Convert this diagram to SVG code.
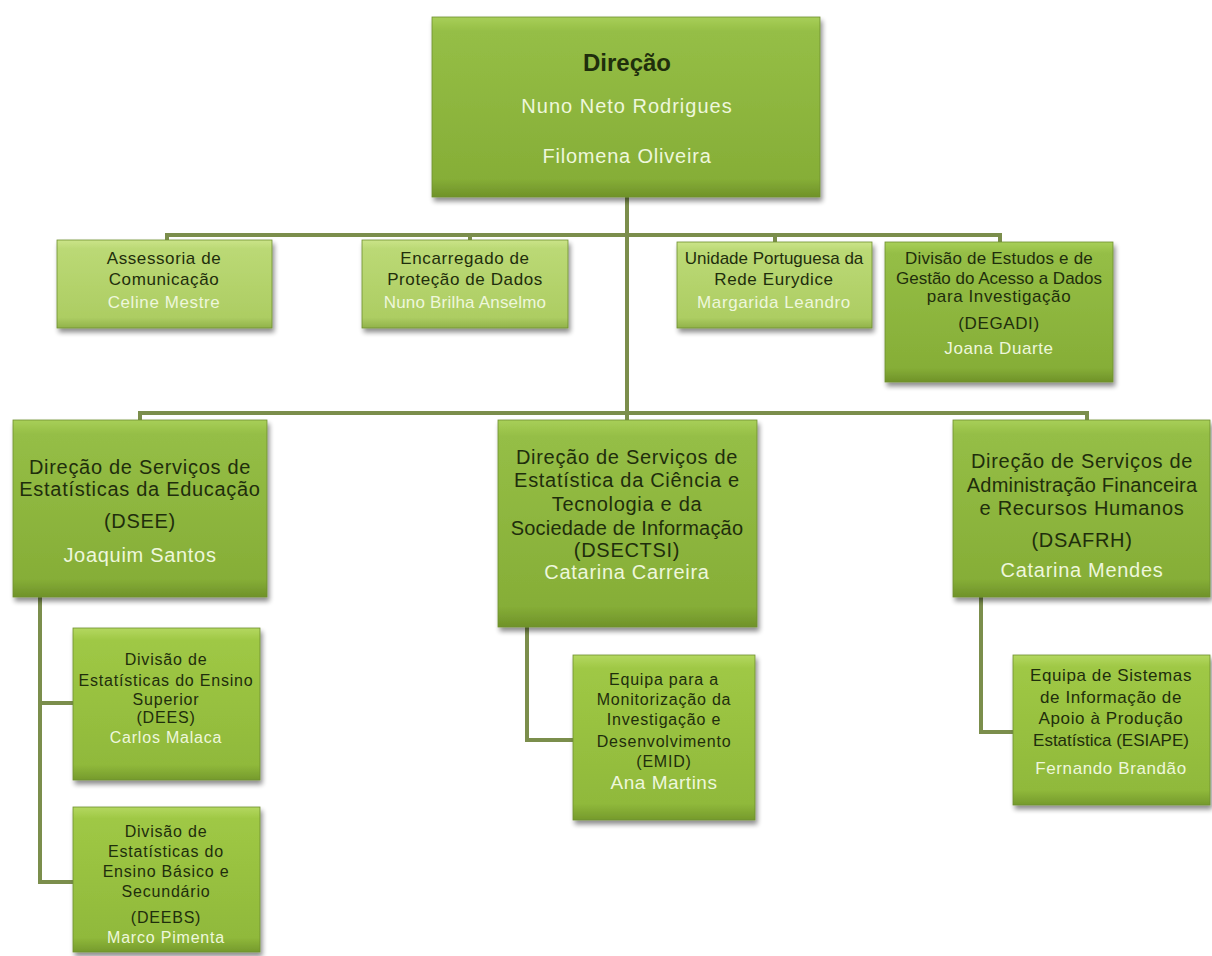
<svg xmlns="http://www.w3.org/2000/svg" width="1212" height="956" viewBox="0 0 1212 956">
<defs>
<linearGradient id="gMain" x1="0" y1="0" x2="0" y2="1">
<stop offset="0" stop-color="#a8cf58"/><stop offset="0.08" stop-color="#95be46"/><stop offset="0.9" stop-color="#86ae37"/><stop offset="1" stop-color="#6f9229"/>
</linearGradient>
<linearGradient id="gLight" x1="0" y1="0" x2="0" y2="1">
<stop offset="0" stop-color="#cbe489"/><stop offset="0.1" stop-color="#bbd975"/><stop offset="0.88" stop-color="#adcd63"/><stop offset="1" stop-color="#91b24a"/>
</linearGradient>
<linearGradient id="gSub" x1="0" y1="0" x2="0" y2="1">
<stop offset="0" stop-color="#b4d860"/><stop offset="0.08" stop-color="#9fc845"/><stop offset="0.9" stop-color="#90b93b"/><stop offset="1" stop-color="#759a2c"/>
</linearGradient>
<filter id="sh" x="-10%" y="-10%" width="125%" height="130%">
<feGaussianBlur in="SourceAlpha" stdDeviation="2.5"/>
<feOffset dx="2" dy="4" result="b"/>
<feComponentTransfer><feFuncA type="linear" slope="0.45"/></feComponentTransfer>
<feMerge><feMergeNode/><feMergeNode in="SourceGraphic"/></feMerge>
</filter>
</defs>
<style>
.box{filter:url(#sh);stroke:#6f8f30;stroke-width:0.8}
.main{fill:url(#gMain)}
.light{fill:url(#gLight)}
.sub{fill:url(#gSub)}
text{font-family:"Liberation Sans",Arial,sans-serif;text-anchor:middle}
.t{fill:#1f2e0c}
.n{fill:#eef7dc}
.l2{font-size:17px;letter-spacing:0.6px}
.l3{font-size:20px;letter-spacing:0.7px}
.l4{font-size:16px;letter-spacing:0.8px}
.l5{font-size:17px;letter-spacing:0.6px}
.tight{letter-spacing:0px}
.semi{letter-spacing:0.2px}
.conn{fill:none;stroke:#7b8e4c;stroke-width:4}
</style>
<g id="connectors">
<path class="conn" d="M627,197 V413"/>
<path class="conn" d="M167,242 V235 H1000 V242 M470,235 V242 M775,235 V242"/>
<path class="conn" d="M140,420 V413 H1087 V420 M627,413 V420"/>
<path class="conn" d="M40,597 V882 H73 M40,703 H73"/>
<path class="conn" d="M527,627 V740 H573"/>
<path class="conn" d="M981,597 V732 H1013"/>
</g>
<g id="direcao">
<rect class="box main" x="432" y="17" width="388" height="180"/>
<text class="t" x="627" y="71" font-size="24" font-weight="bold">Direção</text>
<text class="n" x="627" y="113" font-size="20" letter-spacing="1">Nuno Neto Rodrigues</text>
<text class="n" x="627" y="163" font-size="20" letter-spacing="0.8">Filomena Oliveira</text>
</g>
<g id="assessoria">
<rect class="box light" x="57" y="240" width="215" height="88"/>
<text class="t l2" x="164" y="264">Assessoria de</text>
<text class="t l2" x="164" y="285">Comunicação</text>
<text class="n l2" x="164" y="308">Celine Mestre</text>
</g>
<g id="encarregado">
<rect class="box light" x="362" y="240" width="206" height="88"/>
<text class="t l2" x="465" y="264">Encarregado de</text>
<text class="t l2" x="465" y="285">Proteção de Dados</text>
<text class="n l2 semi" x="465" y="308">Nuno Brilha Anselmo</text>
</g>
<g id="unidade">
<rect class="box light" x="677" y="242" width="195" height="86"/>
<text class="t l2 tight" x="774" y="264">Unidade Portuguesa da</text>
<text class="t l2" x="774" y="285">Rede Eurydice</text>
<text class="n l2" x="774" y="308">Margarida Leandro</text>
</g>
<g id="degadi">
<rect class="box main" x="885" y="242" width="228" height="140"/>
<text class="t l2 semi" x="999" y="264">Divisão de Estudos e de</text>
<text class="t l2 tight" x="999" y="284">Gestão do Acesso a Dados</text>
<text class="t l2" x="999" y="302">para Investigação</text>
<text class="t l2" x="999" y="329">(DEGADI)</text>
<text class="n l2" x="999" y="354">Joana Duarte</text>
</g>
<g id="dsee">
<rect class="box main" x="13" y="420" width="254" height="177"/>
<text class="t l3" x="140" y="474">Direção de Serviços de</text>
<text class="t l3" x="140" y="496">Estatísticas da Educação</text>
<text class="t l3" x="140" y="528">(DSEE)</text>
<text class="n l3" x="140" y="562">Joaquim Santos</text>
</g>
<g id="dsectsi">
<rect class="box main" x="498" y="420" width="259" height="207"/>
<text class="t l3" x="627" y="464">Direção de Serviços de</text>
<text class="t l3" x="627" y="487">Estatística da Ciência e</text>
<text class="t l3" x="627" y="511">Tecnologia e da</text>
<text class="t l3 semi" x="627" y="535">Sociedade de Informação</text>
<text class="t l3" x="627" y="557">(DSECTSI)</text>
<text class="n l3" x="627" y="579">Catarina Carreira</text>
</g>
<g id="dsafrh">
<rect class="box main" x="953" y="420" width="257" height="177"/>
<text class="t l3" x="1082" y="468">Direção de Serviços de</text>
<text class="t l3 semi" x="1082" y="492">Administração Financeira</text>
<text class="t l3" x="1082" y="515">e Recursos Humanos</text>
<text class="t l3" x="1082" y="547">(DSAFRH)</text>
<text class="n l3" x="1082" y="577">Catarina Mendes</text>
</g>
<g id="dees">
<rect class="box sub" x="73" y="628" width="187" height="152"/>
<text class="t l4" x="166" y="665">Divisão de</text>
<text class="t l4" x="166" y="686">Estatísticas do Ensino</text>
<text class="t l4" x="166" y="705">Superior</text>
<text class="t l4" x="166" y="723">(DEES)</text>
<text class="n l4" x="166" y="743">Carlos Malaca</text>
</g>
<g id="deebs">
<rect class="box sub" x="73" y="807" width="187" height="145"/>
<text class="t l4" x="166" y="837">Divisão de</text>
<text class="t l4" x="166" y="857">Estatísticas do</text>
<text class="t l4" x="166" y="877">Ensino Básico e</text>
<text class="t l4" x="166" y="897">Secundário</text>
<text class="t l4" x="166" y="923">(DEEBS)</text>
<text class="n l4" x="166" y="943">Marco Pimenta</text>
</g>
<g id="emid">
<rect class="box sub" x="573" y="655" width="182" height="165"/>
<text class="t l4" x="664" y="685">Equipa para a</text>
<text class="t l4" x="664" y="705">Monitorização da</text>
<text class="t l4" x="664" y="725">Investigação e</text>
<text class="t l4" x="664" y="747">Desenvolvimento</text>
<text class="t l4" x="664" y="767">(EMID)</text>
<text class="n" x="664" y="789" font-size="19" letter-spacing="0.5">Ana Martins</text>
</g>
<g id="esiape">
<rect class="box sub" x="1013" y="655" width="197" height="150"/>
<text class="t l5" x="1111" y="681">Equipa de Sistemas</text>
<text class="t l5" x="1111" y="703">de Informação de</text>
<text class="t l5" x="1111" y="724">Apoio à Produção</text>
<text class="t l5 tight" x="1111" y="746">Estatística (ESIAPE)</text>
<text class="n l5" x="1111" y="774">Fernando Brandão</text>
</g>
</svg>
